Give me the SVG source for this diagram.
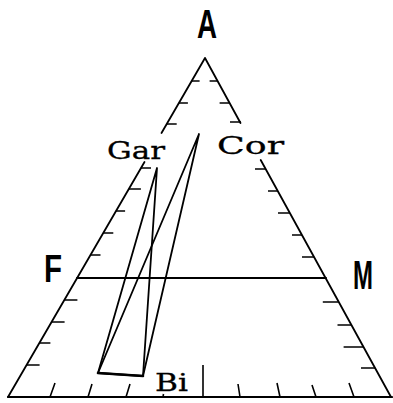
<svg xmlns="http://www.w3.org/2000/svg" width="393" height="403" viewBox="0 0 393 403">
<style>
.ln{stroke:#000;stroke-width:1.8;fill:none;stroke-linecap:round;stroke-linejoin:round}
.tk{stroke:#000;stroke-width:1.6;fill:none}
.sans{font-family:"Liberation Sans",Arial,sans-serif;font-weight:bold;fill:#000}
.serif{font-family:"DejaVu Serif","Liberation Serif",serif;fill:#000;stroke:#000;stroke-width:0.3}
</style>
<rect width="393" height="403" fill="#fff"/>
<g id="frame" class="ln">
<path d="M205,58 L161.5,133 M144.5,162 L8,397 M205,58 L240.5,123 M260.7,160 L391,397"/>
<path d="M8,397 L392,397" stroke-width="2.2"/>
<path d="M77,278 L326,278" stroke-width="2"/>
</g>
<g id="ticks" class="tk">
<path d="M191.6,81 h8 M178.9,103 h9 M166.7,124 h10 M141,168 h10 M128.9,189 h12 M116.1,211 h9 M103.3,233 h10 M90.5,255 h10 M64.4,300 h13 M51.6,322 h13 M39.4,343 h11 M26.6,365 h13"/>
<path d="M217.6,81 h-8 M229.6,103 h-10 M241,122 h-11 M266,169 h-11 M278,191 h-10 M290,213 h-12 M302,235 h-10 M314,257 h-12 M338.8,302 h-16 M351.5,325 h-14 M363.6,347 h-20 M375,368 h-14"/>
<path d="M50,397 L55,383 M88,397 L92,384 M126,397 L130,384 M163,397 L163.5,394 M203,397 L203,365 M240,397 L238,384 M280,397 L277,383 M316,397 L312,385 M354,397 L349,383"/>
</g>
<g id="connectors" class="ln" stroke-width="2">
<path d="M98,373 L157,168 L143,376 Z"/>
<path d="M98,373 L199,134 L143,376"/>
<path d="M98,373 L143,376" stroke-width="2.6"/>
</g>
<g id="node-A"><text class="sans" x="197" y="38" font-size="41" textLength="20" lengthAdjust="spacingAndGlyphs">A</text></g>
<g id="node-F"><text class="sans" x="44" y="282" font-size="39" textLength="18" lengthAdjust="spacingAndGlyphs">F</text></g>
<g id="node-M"><text class="sans" x="353" y="289" font-size="40" textLength="20" lengthAdjust="spacingAndGlyphs">M</text></g>
<g id="node-Gar"><text class="serif" x="107" y="159" font-size="25" textLength="58" lengthAdjust="spacingAndGlyphs">Gar</text></g>
<g id="node-Cor"><text class="serif" x="217" y="154" font-size="25" textLength="67" lengthAdjust="spacingAndGlyphs">Cor</text></g>
<g id="node-Bi"><text class="serif" x="155" y="391" font-size="24" textLength="33" lengthAdjust="spacingAndGlyphs">Bi</text></g>
</svg>
